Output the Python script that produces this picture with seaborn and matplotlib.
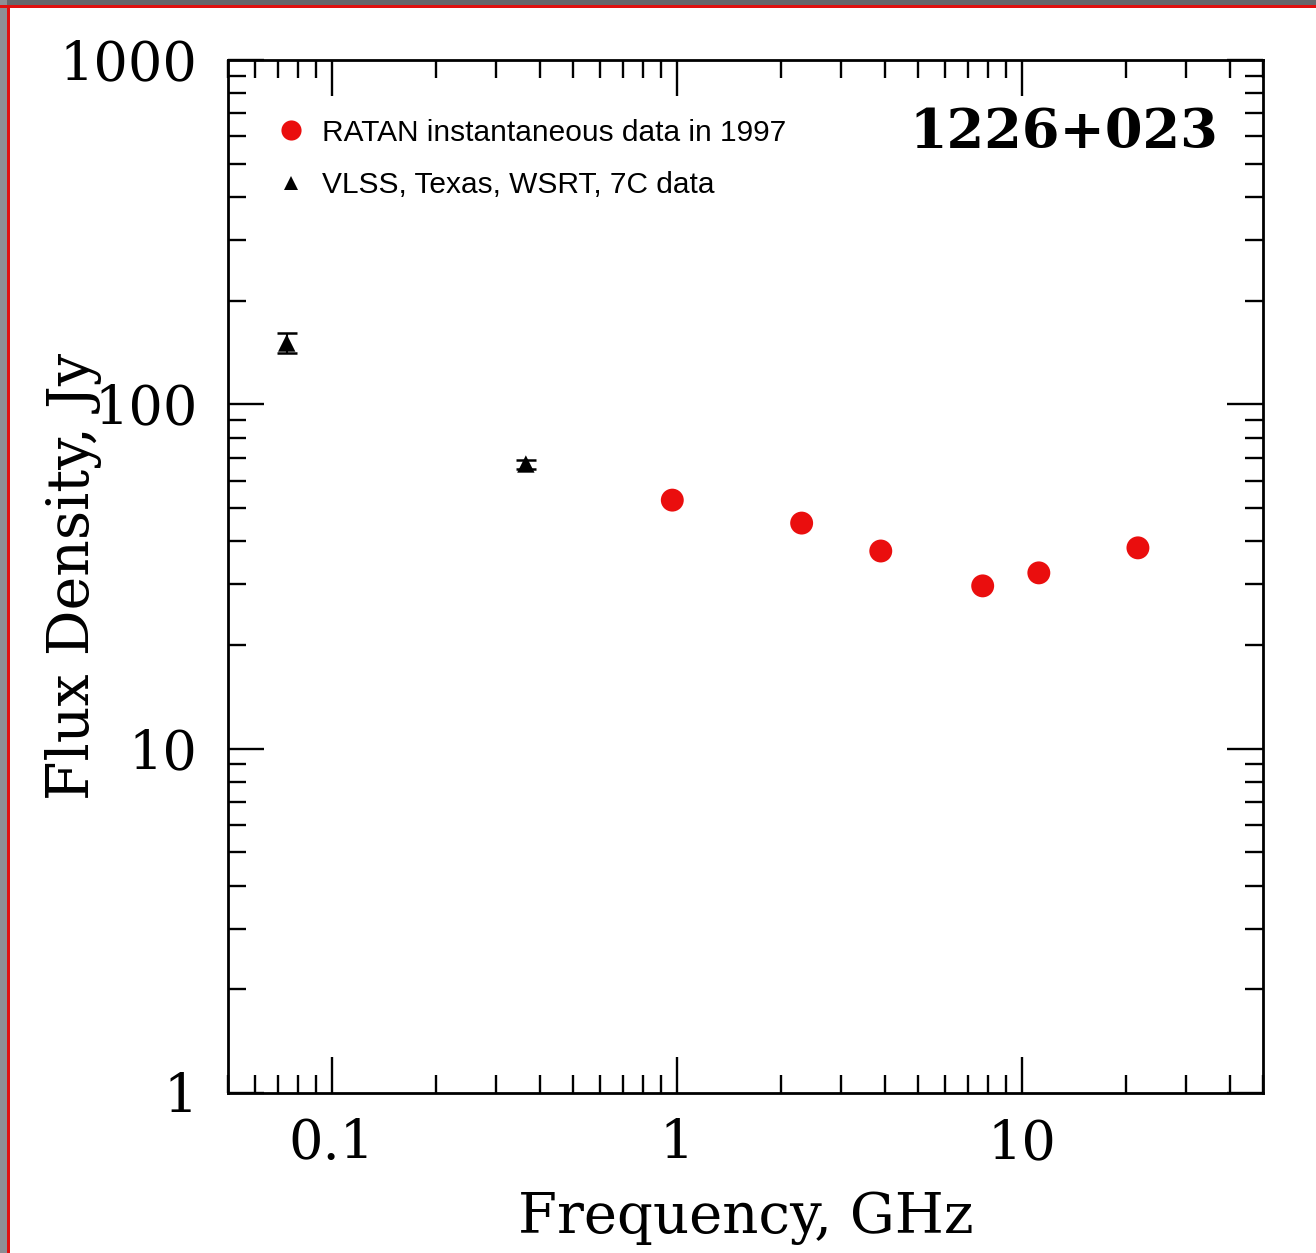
import numpy as np
import pandas as pd
import matplotlib
matplotlib.use("Agg")
import matplotlib.pyplot as plt
import seaborn as sns
from matplotlib.lines import Line2D
from matplotlib.patches import Rectangle
from matplotlib.ticker import FixedLocator, FixedFormatter, LogLocator, NullFormatter

# ---------------- data ----------------
ratan_freq = [0.97, 2.3, 3.9, 7.7, 11.2, 21.7]          # GHz
ratan_flux = [52.7, 45.2, 37.5, 29.7, 32.4, 38.3]       # Jy
lit_freq = [0.074, 0.365]                               # GHz
lit_flux = [150.7, 67.1]                                # Jy
lit_err = [10.0, 2.0]                                   # Jy

x_ticks = [0.1, 1, 10]
x_tick_labels = ["0.1", "1", "10"]
y_ticks = [1, 10, 100, 1000]
y_tick_labels = ["1", "10", "100", "1000"]

legend_labels = ["RATAN instantaneous data in 1997", "VLSS, Texas, WSRT, 7C data"]
source_name = "1226+023"
x_label = "Frequency, GHz"
y_label = "Flux Density, Jy"

# ---------------- style ----------------
sns.set_style("ticks")
plt.rcParams["font.family"] = ["DejaVu Serif"]
plt.rcParams.update({"text.color": "black", "axes.labelcolor": "black",
                     "xtick.color": "black", "ytick.color": "black",
                     "axes.edgecolor": "black"})

W, H = 1316, 1253
fig = plt.figure(figsize=(W / 100, H / 100), dpi=100)
fig.patch.set_facecolor("white")
ax = fig.add_axes([228 / W, 1 - 1093 / H, (1263 - 228) / W, (1093 - 60) / H])

ratan_df = pd.DataFrame({"freq": ratan_freq, "flux": ratan_flux})
lit_df = pd.DataFrame({"freq": lit_freq, "flux": lit_flux, "err": lit_err})

ax.set_xscale("log")
ax.set_yscale("log")

sns.scatterplot(data=ratan_df, x="freq", y="flux", ax=ax, color="#ea0e0e",
                marker="o", s=16.5 ** 2, edgecolor="none", legend=False, zorder=3)
ax.errorbar(lit_df["freq"], lit_df["flux"], yerr=lit_df["err"], fmt="none",
            ecolor="black", elinewidth=1.5, capsize=7.5, capthick=1.8, zorder=3)
sns.scatterplot(data=lit_df, x="freq", y="flux", ax=ax, color="black",
                marker="^", s=12.5 ** 2, edgecolor="none", legend=False, zorder=4)

ax.set_xlim(0.05, 50)
ax.set_ylim(1, 1000)

# ticks
ax.xaxis.set_major_locator(FixedLocator(x_ticks))
ax.xaxis.set_major_formatter(FixedFormatter(x_tick_labels))
ax.yaxis.set_major_locator(FixedLocator(y_ticks))
ax.yaxis.set_major_formatter(FixedFormatter(y_tick_labels))
ax.xaxis.set_minor_locator(LogLocator(base=10, subs=np.arange(2, 10), numticks=20))
ax.yaxis.set_minor_locator(LogLocator(base=10, subs=np.arange(2, 10), numticks=20))
ax.xaxis.set_minor_formatter(NullFormatter())
ax.yaxis.set_minor_formatter(NullFormatter())

ax.tick_params(which="both", direction="in", top=True, right=True, color="black",
               labelcolor="black")
ax.tick_params(which="major", length=26, width=1.7, labelsize=39, pad=18)
ax.tick_params(which="minor", length=13, width=1.7)
ax.tick_params(axis="y", which="major", pad=22)
for sp in ax.spines.values():
    sp.set_linewidth(2.0)
    sp.set_color("black")

ax.set_xlabel(x_label, fontsize=40.5, color="black")
ax.set_ylabel(y_label, fontsize=41, color="black")
ax.xaxis.set_label_coords(0.5, -0.094)
ax.yaxis.set_label_coords(-0.122, 0.5)

ax.text(0.9565, 0.9148, source_name, transform=ax.transAxes, ha="right",
        va="baseline", fontsize=39, fontweight="bold", family="DejaVu Serif",
        color="black")

handles = [
    Line2D([], [], linestyle="none", marker="o", color="#ea0e0e", markersize=14.5,
           markeredgewidth=0),
    Line2D([], [], linestyle="none", marker="^", color="black", markersize=10,
           markeredgewidth=0),
]
leg = ax.legend(handles, legend_labels, loc="upper left", bbox_to_anchor=(0.0464, 0.943),
                frameon=False, handlelength=1.0, handletextpad=0.55,
                labelspacing=0.82, borderpad=0, borderaxespad=0,
                prop={"family": "Liberation Sans", "size": 21.5})
for t in leg.get_texts():
    t.set_color("black")

# decorative frame of the screenshot (top and left edges)
fig.patches.append(Rectangle((0, 1 - 5 / H), 1, 5 / H, transform=fig.transFigure,
                             facecolor="#66666b", edgecolor="none", zorder=10))
fig.patches.append(Rectangle((0, 1 - 8 / H), 1, 3 / H, transform=fig.transFigure,
                             facecolor="#e01010", edgecolor="none", zorder=11))
fig.patches.append(Rectangle((0, 0), 7 / W, 1, transform=fig.transFigure,
                             facecolor="#8e8e94", edgecolor="none", zorder=10))
fig.patches.append(Rectangle((7 / W, 0), 3 / W, 1 - 5 / H, transform=fig.transFigure,
                             facecolor="#e01010", edgecolor="none", zorder=11))

fig.savefig("out.png", dpi=100)
